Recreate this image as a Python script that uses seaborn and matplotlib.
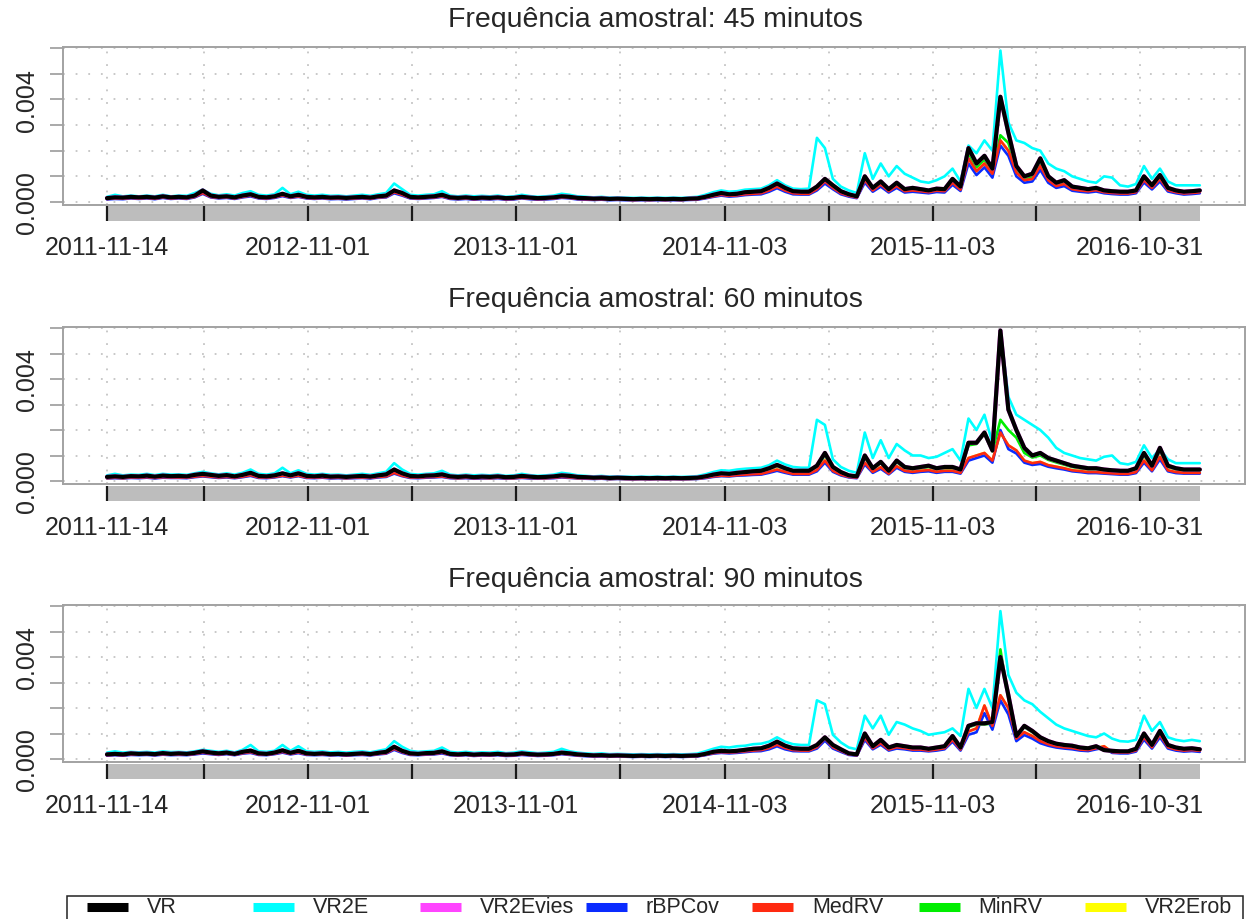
import numpy as np
import pandas as pd
import matplotlib
matplotlib.use("Agg")
import matplotlib.pyplot as plt
from matplotlib.lines import Line2D
from matplotlib.patches import Rectangle
import seaborn as sns

sns.set_style("white")
plt.rcParams["font.family"] = ["Liberation Sans", "DejaVu Sans"]

# ---------------- data (values in units of 1e-5) ----------------
UNIT = 1e-5
START = "2011-11-14"
dates = pd.date_range(START, periods=138, freq="14D")

series_names = ["VR", "VR2E", "VR2Evies", "rBPCov", "MedRV", "MinRV", "VR2Erob"]
series_colors = ["#000000", "#00FFFF", "#FF44FF", "#0A2BFF", "#FF2A10", "#00EE00", "#FFFF00"]

titles = ["Frequência amostral: 45 minutos",
          "Frequência amostral: 60 minutos",
          "Frequência amostral: 90 minutos"]

tick_dates = ["2011-11-14", "2012-05-02", "2012-11-01", "2013-05-02", "2013-11-01",
              "2014-05-02", "2014-11-03", "2015-05-04", "2015-11-03", "2016-05-02", "2016-10-31"]
tick_labels = ["2011-11-14", "", "2012-11-01", "", "2013-11-01",
               "", "2014-11-03", "", "2015-11-03", "", "2016-10-31"]

# ---- 45 minutos ----
VR_45 = [15,18,17,20,18,20,17,22,18,20, 18,25,45,25,20,22,18,25,30,20,
         18,22,32,22,28,20,18,20,17,18, 16,18,20,17,22,25,45,35,20,18,
         20,22,28,18,16,18,15,17,16,18, 15,16,20,17,15,16,18,22,20,16,
         15,13,14,12,13,12,11,12,11,12, 11,12,11,13,14,20,28,35,30,32,
         38,40,42,55,72,55,42,40,40,60, 90,65,42,30,22,100,55,80,50,75,
         50,55,50,45,52,50,90,60,210,150, 180,130,410,270,140,100,110,170,100,75,
         85,60,55,50,55,45,42,40,40,45, 100,65,105,55,45,40,42,45]
VR2E_45 = [20,28,22,25,22,25,22,28,22,25, 24,35,48,32,26,30,25,35,42,28,
           25,30,55,30,40,28,25,28,24,25, 22,25,28,24,30,35,72,50,28,25,
           28,30,42,25,22,25,22,24,22,25, 20,22,28,23,20,22,25,32,28,22,
           20,18,20,17,18,17,16,17,16,17, 16,17,16,18,20,28,38,45,40,42,
           48,50,52,65,85,65,52,50,52,250, 210,90,60,45,35,190,90,150,100,140,
           110,95,80,75,85,100,130,80,220,190, 240,200,590,310,240,230,210,200,150,130,
           120,100,90,80,75,100,95,65,60,70, 140,90,130,80,65,65,65,65]
MedRV_45 = [12,14,13,16,14,16,13,18,14,16, 14,20,35,20,16,18,14,20,25,16,
            14,18,26,18,22,16,14,16,13,14, 12,14,16,13,18,20,38,28,16,14,
            16,18,22,14,12,14,11,13,12,14, 11,12,16,13,11,12,14,18,16,12,
            11,10,11,9,10,9,8,9,8,9, 8,9,8,10,11,16,22,28,24,26,
            30,32,34,45,60,45,34,32,32,50, 80,55,34,24,17,85,45,68,42,62,
            42,45,42,38,44,42,75,48,170,120, 150,110,240,200,115,85,90,140,85,62,
            70,50,45,42,46,38,35,33,33,38, 85,55,90,46,38,33,35,38]
MinRV_45 = [14,16,15,18,16,18,15,20,16,18, 16,22,40,22,18,20,16,22,27,18,
            16,20,29,20,25,18,16,18,15,16, 14,16,18,15,20,22,40,31,18,16,
            18,20,25,16,14,16,13,15,14,16, 13,14,18,15,13,14,16,20,18,14,
            13,12,13,11,12,11,10,11,10,11, 10,11,10,12,13,18,25,32,27,29,
            34,36,38,50,66,50,38,36,36,55, 85,60,38,27,20,92,50,74,46,68,
            46,50,46,41,48,46,82,54,190,135, 165,120,260,230,130,92,100,155,92,68,
            78,55,50,46,50,41,38,36,36,41, 92,60,96,50,41,36,38,41]
rBPCov_45 = [10,12,11,14,12,14,11,16,12,14, 12,18,32,18,14,16,12,18,22,14,
             12,16,23,16,20,14,12,14,11,12, 10,12,14,11,16,18,34,25,14,12,
             14,16,20,12,10,12,9,11,10,12, 9,10,14,11,9,10,12,16,14,10,
             9,8,9,7,8,7,7,7,7,7, 7,7,7,8,9,14,20,25,21,23,
             27,29,30,40,54,40,30,29,29,45, 72,50,30,21,15,76,40,60,37,55,
             37,40,37,34,39,37,67,43,150,105, 135,95,220,180,100,75,80,125,75,55,
             62,44,40,37,41,34,31,29,29,34, 76,49,80,41,34,29,31,34]
# hidden under VR in the reference
VR2Evies_45 = [15,18,17,20,18,20,17,22,18,20, 18,25,45,25,20,22,18,25,30,20,
               18,22,32,22,28,20,18,20,17,18, 16,18,20,17,22,25,45,35,20,18,
               20,22,28,18,16,18,15,17,16,18, 15,16,20,17,15,16,18,22,20,16,
               15,13,14,12,13,12,11,12,11,12, 11,12,11,13,14,20,28,35,30,32,
               38,40,42,55,72,55,42,40,40,60, 90,65,42,30,22,100,55,80,50,75,
               50,55,50,45,52,50,90,60,210,150, 180,130,410,270,140,100,110,170,100,75,
               85,60,55,50,55,45,42,40,40,45, 100,65,105,55,45,40,42,45]
# hidden under MedRV in the reference
VR2Erob_45 = [12,14,13,16,14,16,13,18,14,16, 14,20,35,20,16,18,14,20,25,16,
              14,18,26,18,22,16,14,16,13,14, 12,14,16,13,18,20,38,28,16,14,
              16,18,22,14,12,14,11,13,12,14, 11,12,16,13,11,12,14,18,16,12,
              11,10,11,9,10,9,8,9,8,9, 8,9,8,10,11,16,22,28,24,26,
              30,32,34,45,60,45,34,32,32,50, 80,55,34,24,17,85,45,68,42,62,
              42,45,42,38,44,42,75,48,170,120, 150,110,240,200,115,85,90,140,85,62,
              70,50,45,42,46,38,35,33,33,38, 85,55,90,46,38,33,35,38]

# ---- 60 minutos ----
VR_60 = [16,18,16,19,18,21,17,21,19,20, 18,24,28,24,20,23,18,24,32,20,
         18,22,30,22,30,20,18,21,17,18, 16,18,20,17,22,26,45,30,20,18,
         21,22,26,18,16,18,15,17,16,18, 15,16,20,17,15,16,18,22,20,16,
         15,13,14,12,13,12,11,12,11,12, 11,12,11,12,13,18,25,30,28,32,
         35,38,40,50,63,50,40,40,40,60, 110,55,35,22,18,100,50,75,40,80,
         55,50,55,60,50,55,55,45,150,150, 190,120,590,280,200,130,100,110,90,80,
         70,60,55,50,50,45,42,40,40,50, 110,60,130,60,50,45,45,45]
VR2E_60 = [22,28,22,25,24,28,23,28,25,26, 24,30,36,30,26,30,25,32,45,28,
           25,30,52,30,42,28,25,28,24,25, 22,25,28,24,30,36,70,45,28,25,
           28,30,40,25,22,25,22,24,22,25, 20,22,28,23,20,22,25,32,28,22,
           20,18,20,17,18,17,16,17,16,17, 16,17,16,17,19,26,35,42,40,45,
           48,50,52,62,80,65,55,52,52,240, 220,85,55,40,32,190,90,160,90,145,
           120,100,100,90,95,110,125,80,245,200, 260,150,590,330,260,240,220,200,170,130,
           110,100,90,85,80,95,100,70,65,75, 140,90,125,85,70,70,70,70]
MedRV_60 = [11,13,11,14,13,15,12,15,14,14, 13,17,20,17,14,16,13,17,23,14,
            13,16,21,16,21,14,13,15,12,13, 11,13,14,12,16,18,32,21,14,13,
            15,16,18,13,11,13,11,12,11,13, 11,11,14,12,11,11,13,16,14,11,
            11,9,10,8,9,8,8,8,8,8, 8,8,8,8,9,13,18,21,20,23,
            25,27,28,36,45,36,28,28,28,43, 80,40,25,16,13,72,36,54,29,58,
            40,36,40,43,36,40,40,32,90,100, 110,80,190,140,120,80,70,75,62,56,
            50,42,39,35,35,32,30,28,28,35, 80,42,95,42,35,32,32,32]
MinRV_60 = [15,17,15,18,17,20,16,20,18,19, 17,22,26,22,18,21,17,22,30,18,
            17,20,28,20,28,18,17,19,16,17, 15,17,18,16,20,24,42,28,18,17,
            19,20,24,17,15,17,14,16,15,17, 14,15,18,16,14,15,17,20,18,15,
            14,12,13,11,12,11,10,11,10,11, 10,11,10,11,12,16,23,28,26,30,
            33,35,37,46,58,46,37,37,37,55, 100,50,32,20,16,92,46,70,37,74,
            50,46,50,55,46,50,50,41,140,145, 185,115,240,200,170,110,92,100,83,73,
            64,55,50,46,46,41,38,37,37,46, 100,55,118,55,46,41,41,41]
rBPCov_60 = [10,11,10,12,11,13,10,13,12,12, 11,15,18,15,12,14,11,15,20,12,
             11,14,19,14,19,12,11,13,10,11, 10,11,12,10,14,16,29,19,12,11,
             13,14,16,11,10,11,9,10,10,11, 9,10,12,10,9,10,11,14,12,10,
             9,8,9,7,8,7,7,7,7,7, 7,7,7,7,8,11,16,19,18,21,
             22,24,25,32,40,32,25,25,25,38, 72,36,22,14,11,65,32,48,26,52,
             36,32,36,38,32,36,36,29,80,90, 100,72,200,125,108,72,63,67,56,50,
             45,38,35,31,31,29,27,25,25,31, 72,38,85,38,31,29,29,29]
VR2Evies_60 = [16,18,16,19,18,21,17,21,19,20, 18,24,28,24,20,23,18,24,32,20,
               18,22,30,22,30,20,18,21,17,18, 16,18,20,17,22,26,45,30,20,18,
               21,22,26,18,16,18,15,17,16,18, 15,16,20,17,15,16,18,22,20,16,
               15,13,14,12,13,12,11,12,11,12, 11,12,11,12,13,18,25,30,28,32,
               35,38,40,50,63,50,40,40,40,60, 110,55,35,22,18,100,50,75,40,80,
               55,50,55,60,50,55,55,45,150,150, 190,120,590,280,200,130,100,110,90,80,
               70,60,55,50,50,45,42,40,40,50, 110,60,130,60,50,45,45,45]
VR2Erob_60 = [11,13,11,14,13,15,12,15,14,14, 13,17,20,17,14,16,13,17,23,14,
              13,16,21,16,21,14,13,15,12,13, 11,13,14,12,16,18,32,21,14,13,
              15,16,18,13,11,13,11,12,11,13, 11,11,14,12,11,11,13,16,14,11,
              11,9,10,8,9,8,8,8,8,8, 8,8,8,8,9,13,18,21,20,23,
              25,27,28,36,45,36,28,28,28,43, 80,40,25,16,13,72,36,54,29,58,
              40,36,40,43,36,40,40,32,90,100, 110,80,190,140,120,80,70,75,62,56,
              50,42,39,35,35,32,30,28,28,35, 80,42,95,42,35,32,32,32]

# ---- 90 minutos ----
VR_90 = [18,20,18,22,20,21,19,23,20,22, 20,24,30,25,22,25,20,28,33,22,
         20,25,34,24,32,22,20,22,19,20, 18,20,22,19,24,28,48,32,22,20,
         23,24,30,20,18,20,17,19,18,20, 17,18,22,19,17,18,20,25,22,18,
         16,14,15,13,14,13,12,13,12,13, 12,13,12,13,14,20,28,32,30,32,
         36,40,42,52,68,52,42,40,40,55, 85,55,38,22,18,100,50,75,45,55,
         50,45,45,40,45,50,90,45,130,140, 140,145,400,250,90,130,110,85,70,60,
         55,52,45,42,50,35,32,30,30,40, 100,55,110,55,45,40,42,38]
VR2E_90 = [25,30,25,28,26,28,25,30,27,28, 26,30,36,32,28,32,26,36,55,30,
           28,32,55,32,50,30,28,30,26,28, 25,28,30,26,32,38,70,48,32,28,
           30,32,45,28,25,28,24,26,25,28, 23,25,30,26,23,25,28,40,30,25,
           22,20,22,19,20,19,18,19,18,19, 18,19,18,19,21,30,40,48,45,50,
           52,58,60,68,85,68,58,55,55,230, 215,95,65,45,38,170,120,170,95,145,
           135,120,110,95,100,105,120,90,275,200, 275,200,580,330,260,230,215,185,160,135,
           120,110,100,90,85,100,80,70,68,75, 170,110,145,85,75,70,75,70]
MedRV_90 = [15,17,15,18,17,18,16,19,17,18, 17,20,25,21,18,21,17,23,27,18,
            17,21,28,20,26,18,17,18,16,17, 15,17,18,16,20,23,40,27,18,17,
            19,20,25,17,15,17,14,16,15,17, 14,15,18,16,14,15,17,21,18,15,
            13,12,12,11,12,11,10,11,10,11, 10,11,10,11,12,17,23,27,25,27,
            30,33,35,43,56,43,35,33,33,46, 80,46,32,18,15,83,42,62,37,46,
            42,37,37,33,37,42,75,37,108,120, 210,130,250,200,80,105,90,70,58,50,
            46,43,37,35,42,50,27,25,25,33, 85,46,95,46,37,33,35,32]
MinRV_90 = [17,19,17,21,19,20,18,22,19,21, 19,23,28,24,21,24,19,26,31,21,
            19,24,32,23,30,21,19,21,18,19, 17,19,21,18,23,26,45,30,21,19,
            22,23,28,19,17,19,16,18,17,19, 16,17,21,18,16,17,19,24,21,17,
            15,13,14,12,13,12,11,12,11,12, 11,12,11,12,13,19,26,30,28,30,
            34,38,40,50,64,50,40,38,38,52, 80,52,36,21,17,95,47,71,43,52,
            47,43,43,38,43,47,85,43,125,135, 135,140,430,240,88,125,105,82,67,57,
            52,50,43,40,47,33,30,29,29,38, 95,52,105,52,43,38,40,36]
rBPCov_90 = [13,15,13,16,15,16,14,17,15,16, 15,18,22,19,16,19,15,21,24,16,
             15,19,25,18,23,16,15,16,14,15, 13,15,16,14,18,21,36,24,16,15,
             17,18,22,15,13,15,12,14,13,15, 12,13,16,14,12,13,15,19,16,13,
             11,10,10,9,10,9,8,9,8,9, 8,9,8,9,10,15,21,24,22,24,
             27,30,31,38,50,38,31,30,30,41, 72,41,28,16,13,75,38,56,33,41,
             38,33,33,30,33,38,68,33,95,105, 180,115,230,175,70,94,80,62,52,45,
             41,38,33,31,38,44,24,22,22,29, 76,41,85,41,33,29,31,28]
VR2Evies_90 = [18,20,18,22,20,21,19,23,20,22, 20,24,30,25,22,25,20,28,33,22,
               20,25,34,24,32,22,20,22,19,20, 18,20,22,19,24,28,48,32,22,20,
               23,24,30,20,18,20,17,19,18,20, 17,18,22,19,17,18,20,25,22,18,
               16,14,15,13,14,13,12,13,12,13, 12,13,12,13,14,20,28,32,30,32,
               36,40,42,52,68,52,42,40,40,55, 85,55,38,22,18,100,50,75,45,55,
               50,45,45,40,45,50,90,45,130,140, 140,145,400,250,90,130,110,85,70,60,
               55,52,45,42,50,35,32,30,30,40, 100,55,110,55,45,40,42,38]
VR2Erob_90 = [15,17,15,18,17,18,16,19,17,18, 17,20,25,21,18,21,17,23,27,18,
              17,21,28,20,26,18,17,18,16,17, 15,17,18,16,20,23,40,27,18,17,
              19,20,25,17,15,17,14,16,15,17, 14,15,18,16,14,15,17,21,18,15,
              13,12,12,11,12,11,10,11,10,11, 10,11,10,11,12,17,23,27,25,27,
              30,33,35,43,56,43,35,33,33,46, 80,46,32,18,15,83,42,62,37,46,
              42,37,37,33,37,42,75,37,108,120, 210,130,250,200,80,105,90,70,58,50,
              46,43,37,35,42,50,27,25,25,33, 85,46,95,46,37,33,35,32]

panel_data = [
    {"VR": VR_45, "VR2E": VR2E_45, "VR2Evies": VR2Evies_45, "rBPCov": rBPCov_45,
     "MedRV": MedRV_45, "MinRV": MinRV_45, "VR2Erob": VR2Erob_45},
    {"VR": VR_60, "VR2E": VR2E_60, "VR2Evies": VR2Evies_60, "rBPCov": rBPCov_60,
     "MedRV": MedRV_60, "MinRV": MinRV_60, "VR2Erob": VR2Erob_60},
    {"VR": VR_90, "VR2E": VR2E_90, "VR2Evies": VR2Evies_90, "rBPCov": rBPCov_90,
     "MedRV": MedRV_90, "MinRV": MinRV_90, "VR2Erob": VR2Erob_90},
]

# ---------------- layout ----------------
W, H = 1248, 920
fig = plt.figure(figsize=(W / 100, H / 100), dpi=100)

def fx(px):
    return px / W

def fy(py):
    return 1 - py / H

AX_L, AX_R = 63, 1245
# (axes top, axes bottom, band top, band bottom, title y)
geo = [(48, 206, 207, 222, 20), (328, 485, 487, 502, 300), (606, 763, 765, 780, 580)]

start = pd.Timestamp(START)
xlim = (start - pd.Timedelta(days=77.2), start + pd.Timedelta(days=1997.3))
tick_ts = pd.to_datetime(tick_dates)
y_ticks = [0.000, 0.001, 0.002, 0.003, 0.004, 0.005, 0.006]
y_labels = ["0.000", "", "", "", "0.004", "", ""]
frame_col = "#A2A2A2"
draw_order = ["VR2E", "VR2Erob", "rBPCov", "MinRV", "MedRV", "VR2Evies", "VR"]
col_of = dict(zip(series_names, series_colors))

for p, (top, bot, btop, bbot, ty) in enumerate(geo):
    ax = fig.add_axes([fx(AX_L), fy(bot), fx(AX_R - AX_L), (bot - top) / H])
    for name in draw_order:
        vals = np.array(panel_data[p][name], dtype=float) * UNIT
        sns.lineplot(x=dates, y=vals, ax=ax, color=col_of[name],
                     lw=3.0 if name in ("VR", "VR2Evies") else 1.9, legend=False,
                     errorbar=None, sort=True)
    ax.set_xlim(xlim)
    scale = (bot - top - 4) / 0.006
    ax.set_ylim(-3 / scale, 0.006 + 1 / scale)
    ax.set_xticks(tick_ts)
    ax.set_yticks(y_ticks)
    ax.set_yticklabels(y_labels, rotation=90, va="center", fontsize=18)
    ax.tick_params(axis="x", length=0, labelbottom=False)
    ax.tick_params(axis="y", length=9.4, width=1.3, color=frame_col, pad=8,
                   direction="out", left=True)
    ax.set_xlabel("")
    ax.set_ylabel("")
    ax.grid(True, color="#C4C4C4", linestyle=(0, (1, 6)), lw=1.3)
    for s in ax.spines.values():
        s.set_color(frame_col)
        s.set_linewidth(1.4)

    # grey time band with tick marks
    axb = fig.add_axes([fx(AX_L), fy(bbot), fx(AX_R - AX_L), (bbot - btop) / H])
    axb.set_xlim(xlim)
    axb.set_ylim(0, 1)
    axb.axvspan(dates[0], dates[-1], color="#BDBDBD", lw=0)
    axb.vlines(tick_ts, 0, 1, colors="#1A1A1A", lw=1.6)
    axb.set_xticks(tick_ts)
    axb.set_xticklabels(tick_labels, fontsize=18)
    axb.tick_params(axis="x", length=0, pad=10)
    axb.set_yticks([])
    for s in axb.spines.values():
        s.set_visible(False)

    fig.text(fx(655), fy(ty), titles[p], ha="center", va="center", fontsize=20.5)

# ---------------- legend (R style, horizontal) ----------------
fig.patches.append(Rectangle((fx(67), fy(930)), fx(1243 - 67), (930 - 897) / H,
                             transform=fig.transFigure, fill=False,
                             edgecolor="#222222", lw=1.1, zorder=5))
leg_y = fy(908)
for k, (name, c) in enumerate(zip(series_names, series_colors)):
    x0 = 87 + k * 166.3
    fig.add_artist(Line2D([fx(x0), fx(x0 + 41)], [leg_y, leg_y], transform=fig.transFigure,
                          color=c, lw=6.5, solid_capstyle="butt"))
    fig.text(fx(x0 + 60), leg_y, name, ha="left", va="center", fontsize=15.5)

fig.savefig("out.png", dpi=100)
